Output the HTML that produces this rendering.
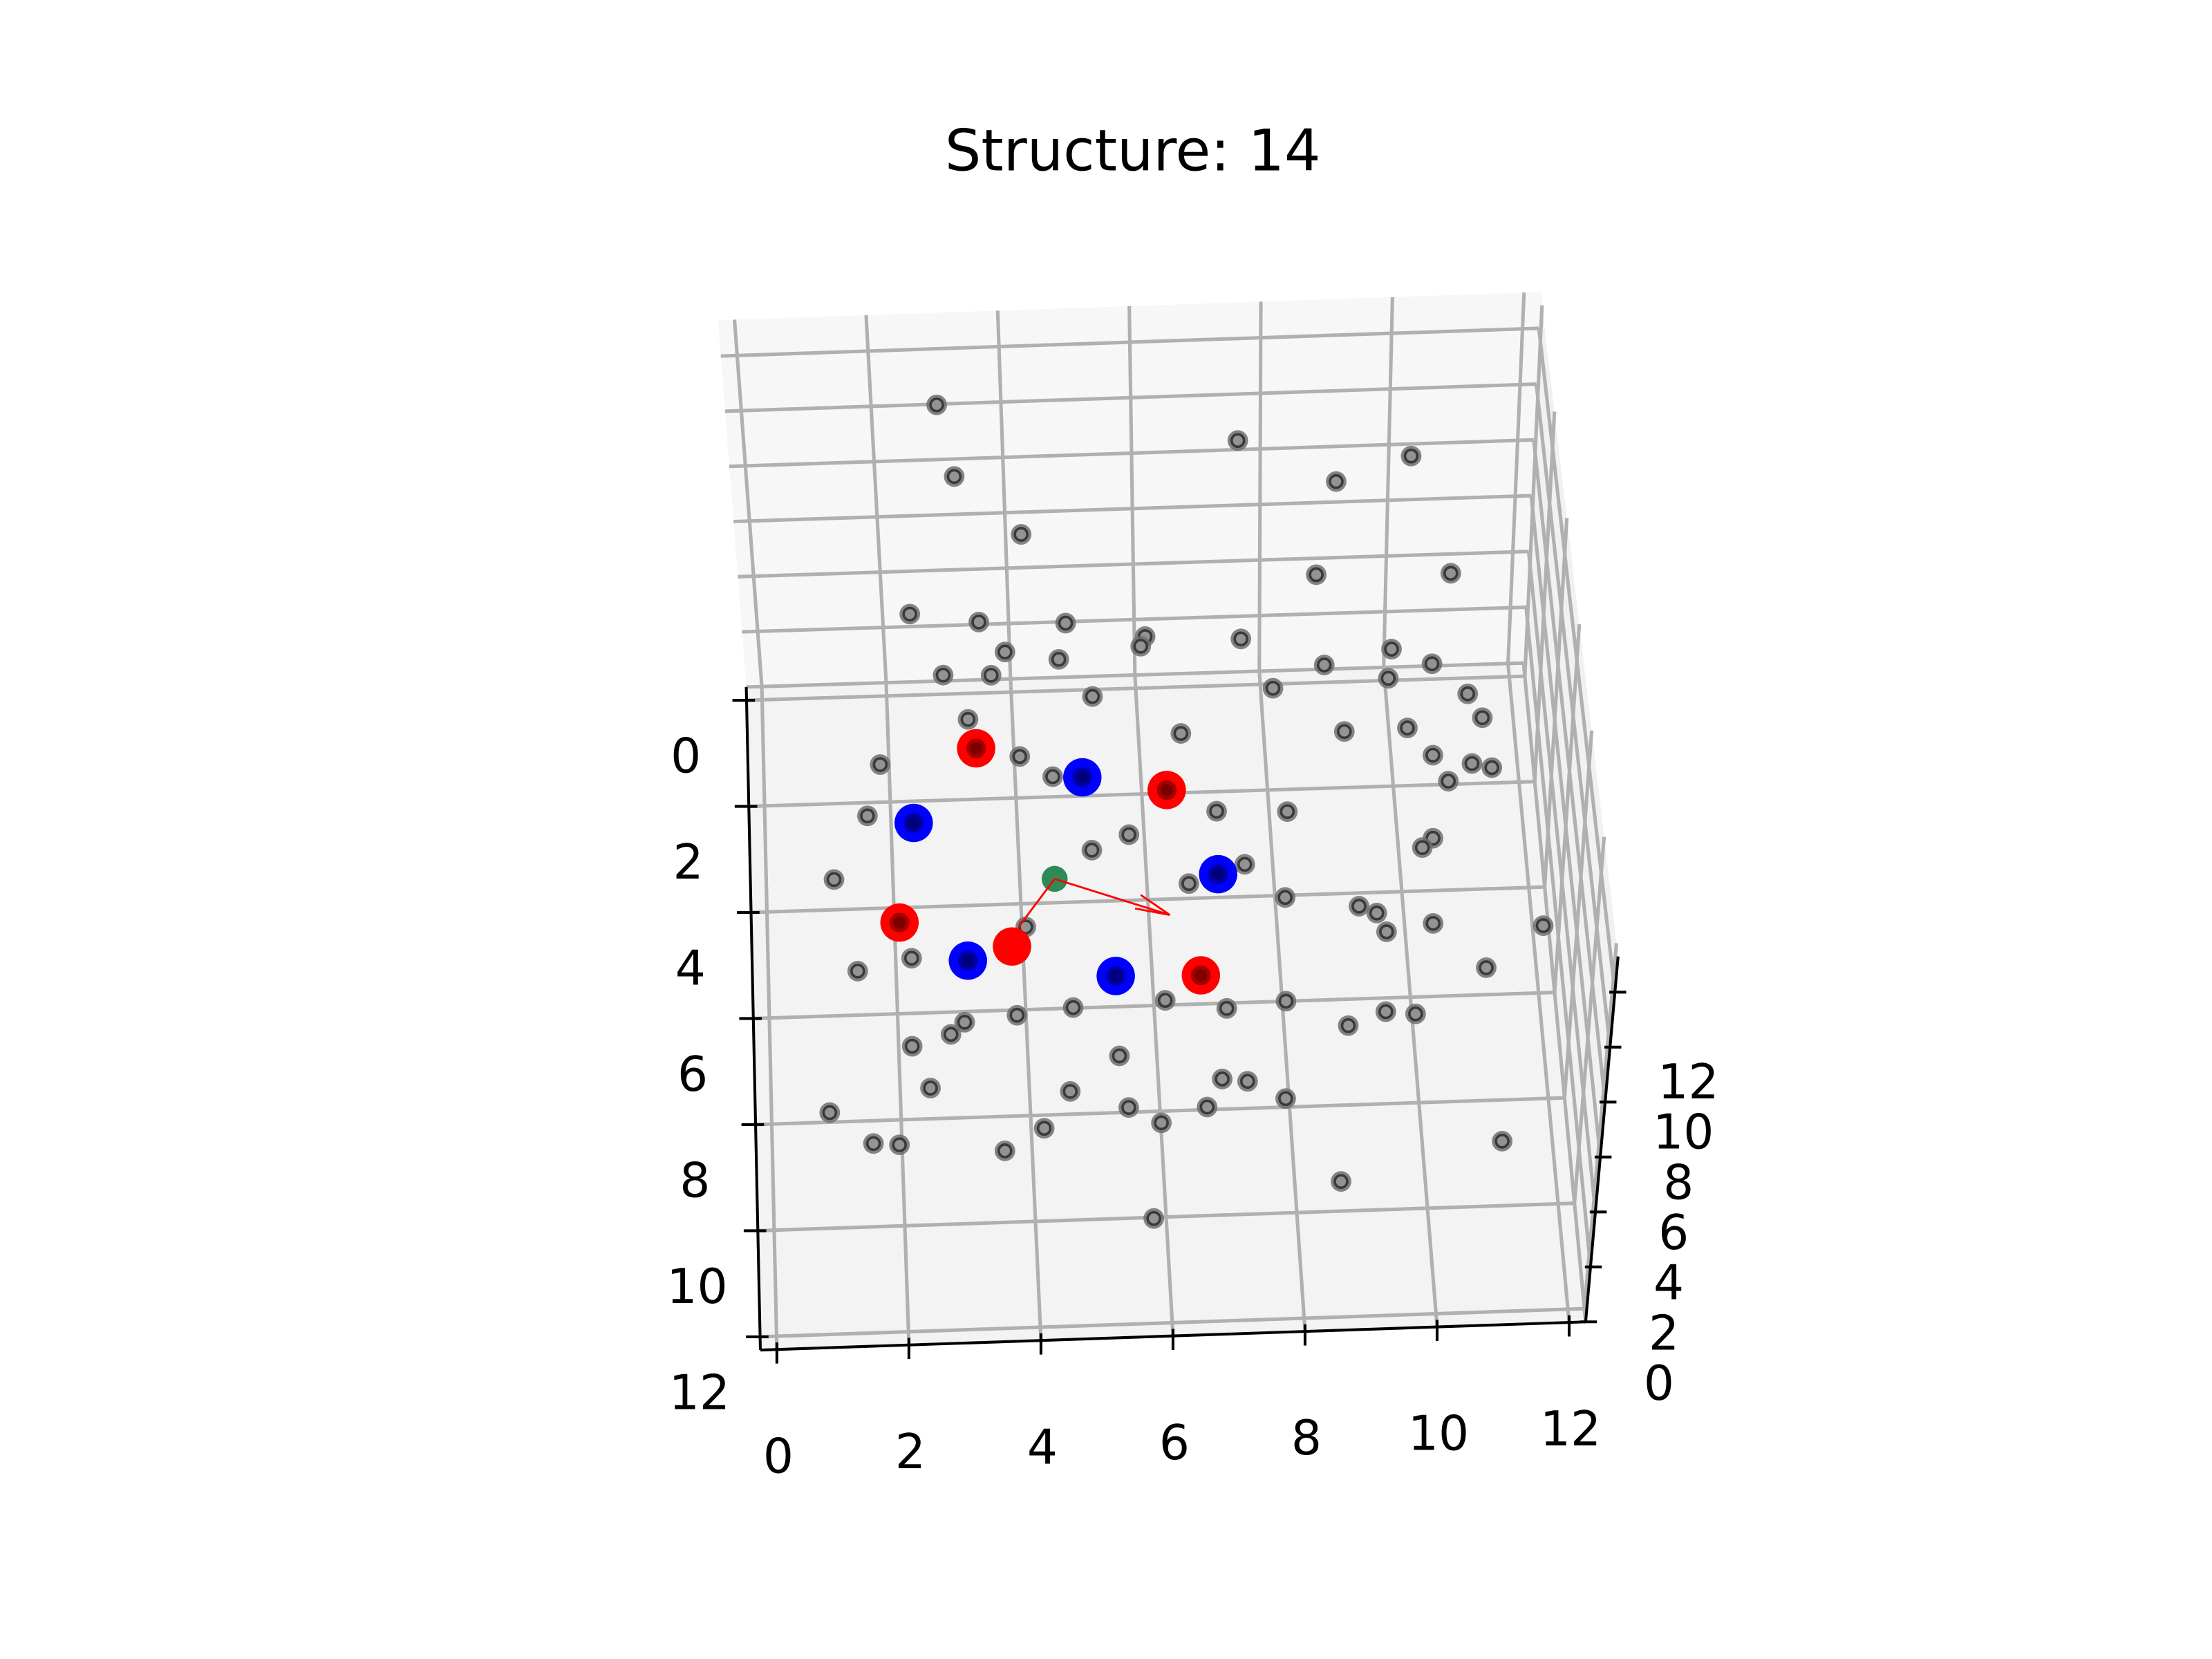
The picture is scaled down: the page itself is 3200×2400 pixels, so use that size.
<!DOCTYPE html>
<html><head><meta charset="utf-8"><title>Structure: 14</title>
<style>html,body{margin:0;padding:0;background:#fff}svg{display:block}text{font-family:"DejaVu Sans","Liberation Sans",sans-serif;fill:#000}</style>
</head><body>
<svg id="chart" width="3200" height="2400" viewBox="0 0 1568 1176" xmlns="http://www.w3.org/2000/svg">
<rect width="1568" height="1176" fill="#fff"/>
<text x="803" y="107" font-size="40.5" text-anchor="middle" dominant-baseline="central">Structure: 14</text>
<g id="panes"></g>
<g id="grid"></g>
<g id="axes"></g>
<g id="marks"></g>
</svg>
<script>
const xTicks=[0,2,4,6,8,10,12];
const yTicks=[0,2,4,6,8,10,12];
const zTicks=[0,2,4,6,8,10,12];
const tickLabels=["0","2","4","6","8","10","12"];
const grayX=[2.99,7.91,10.73,3.23,9.47,4.28,9.03,11.21,2.42,3.53,4.93,6.2,7.74,6.12,3.93,4.79,9.05,10.15,10.78,2.92,3.69,10.06,8.2,5.3,11.31,11.51,3.29,6.68,9.29,10.3,1.86,4.09,4.6,10.67,11.28,11.59,10.88,1.63,7.17,8.29,5.76,5.16,10.56,10.38,1.07,6.66,7.56,8.16,9.31,9.58,4.06,9.71,10.45,12.17,1.4,2.25,11.22,4.74,6.18,7.13,8.06,3.04,3.86,2.82,9.0,9.6,10.06,2.21,5.42,2.47,4.63,6.99,7.38,0.9,5.52,6.73,7.95,4.2,6.01,1.56,1.96,3.58,11.23,8.71,5.81];
const grayY=[-5.46,-4.62,-4.23,-4.10,-3.79,-2.97,-2.04,-1.99,-1.53,-1.34,-1.27,-0.97,-0.87,-0.79,-0.76,-0.59,-0.33,-0.59,-0.29,-0.36,-0.33,-0.04,0.08,0.13,0.3,0.76,0.49,0.88,0.94,0.91,1.29,1.22,1.62,1.44,1.62,1.71,1.94,2.25,2.37,2.42,2.76,3.03,3.01,3.18,3.43,3.72,3.39,4.04,4.25,4.39,4.44,4.75,4.62,4.73,5.17,4.96,5.49,5.99,5.91,6.1,6.0,6.2,6.1,6.42,6.5,6.26,6.32,6.62,6.93,7.42,7.57,7.43,7.49,7.82,7.91,7.95,7.84,8.25,8.22,8.43,8.47,8.65,8.78,9.44,10.02];
const redX=[3.4,6.4,2.08,3.83,6.76];
const redY=[1.04,1.94,4.28,4.8,5.46];
const redCovered=[1,1,1,0,1];
const blueX=[2.36,5.07,7.13,3.13,5.43];
const blueY=[2.41,1.65,3.56,5.04,5.42];
const centerXY=[4.55,3.55];
const arrowEnds=[[6.33,4.3],[3.95,4.43]];

const xLo=-0.25,xHi=12.25,yLo=-0.25,yHi=12.25,zLo=0,zHi=13.3;
const K={c000:[529,487],c100:[1080,470],c010:[539,957],c110:[1124,937],c001:[509,227],c101:[1092,207],c011:[523,699],c111:[1147,678]};
function lerp(a,b,t){return [a[0]+(b[0]-a[0])*t,a[1]+(b[1]-a[1])*t];}
function proj(x,y,z){
  const u=(x-xLo)/(xHi-xLo),v=(y-yLo)/(yHi-yLo),w=(z-zLo)/(zHi-zLo);
  const b0=lerp(lerp(K.c000,K.c100,u),lerp(K.c010,K.c110,u),v);
  const b1=lerp(lerp(K.c001,K.c101,u),lerp(K.c011,K.c111,u),v);
  return lerp(b0,b1,w);
}
const NS="http://www.w3.org/2000/svg";
function mk(tag,parent,attrs){const e=document.createElementNS(NS,tag);for(const k in attrs)e.setAttribute(k,attrs[k]);parent.appendChild(e);return e;}
function ln(parent,p,q,stroke,w){return mk('line',parent,{x1:p[0],y1:p[1],x2:q[0],y2:q[1],stroke:stroke,'stroke-width':w});}
const panes=document.getElementById('panes'),grid=document.getElementById('grid'),axes=document.getElementById('axes'),marks=document.getElementById('marks');
function poly(pts,fill,name){const p=mk('polygon',panes,{points:pts.map(q=>q.join(',')).join(' '),fill:fill});

}
poly([proj(xLo,yLo,zLo),proj(xHi,yLo,zLo),proj(xHi,yLo,zHi),proj(xLo,yLo,zHi)],'#f7f7f7','back-pane');
poly([proj(xLo,yLo,zLo),proj(xHi,yLo,zLo),proj(xHi,yHi,zLo),proj(xLo,yHi,zLo)],'#f3f3f3','floor-pane');
poly([proj(xHi,yLo,zLo),proj(xHi,yHi,zLo),proj(xHi,yHi,zHi),proj(xHi,yLo,zHi)],'#f1f1f1','right-pane');
const GC='#b0b0b0',GW=2.5;
xTicks.forEach(x=>{let l=ln(grid,proj(x,yLo,0),proj(x,yHi,0),GC,GW);


l=ln(grid,proj(x,yLo,0),proj(x,yLo,zHi),GC,GW);

});
yTicks.forEach(y=>{let l=ln(grid,proj(xLo,y,0),proj(xHi,y,0),GC,GW);


l=ln(grid,proj(xHi,y,0),proj(xHi,y,zHi),GC,GW);

});
zTicks.forEach(z=>{let l=ln(grid,proj(xLo,yLo,z),proj(xHi,yLo,z),GC,GW);


l=ln(grid,proj(xHi,yLo,z),proj(xHi,yHi,z),GC,GW);

});
let a=ln(axes,proj(xLo,yLo,0),proj(xLo,yHi,0),'#000',2);


a=ln(axes,proj(xLo,yHi,0),proj(xHi,yHi,0),'#000',2);


a=ln(axes,proj(xHi,yHi,0),proj(xHi,yHi,zHi),'#000',2);


function txt(p,s,name){const t=mk('text',axes,{x:p[0],y:p[1],'font-size':34,'text-anchor':'middle','dominant-baseline':'central'});t.textContent=s;

}
yTicks.forEach((y,i)=>{const p=proj(xLo,y,0);const t=ln(axes,[p[0]-10,p[1]],[p[0]+6,p[1]],'#000',2);


txt([p[0]-43,p[1]+40],tickLabels[i],'y-tick-label');});
xTicks.forEach((x,i)=>{const p=proj(x,yHi,0);const t=ln(axes,[p[0],p[1]-5],[p[0],p[1]+10],'#000',2);


txt([p[0]+1,p[1]+76],tickLabels[i],'x-tick-label');});
zTicks.forEach((z,i)=>{const p=proj(xHi,yHi,z);const t=ln(axes,[p[0]-4,p[1]],[p[0]+8,p[1]],'#000',2);


txt([p[0]+52,p[1]+44+20*z/12],tickLabels[i],'z-tick-label');});
grayX.forEach((x,i)=>{const p=proj(x,grayY[i],0);const g=mk('g',marks,{});


mk('circle',g,{cx:p[0],cy:p[1],r:7.3,fill:'#6f6f6f','fill-opacity':0.85});
mk('circle',g,{cx:p[0],cy:p[1],r:4.4,fill:'#939393',stroke:'#3a3a3a','stroke-width':1.8});});
function big(x,y,color,covered,name){const p=proj(x,y,0);const g=mk('g',marks,{});


mk('circle',g,{cx:p[0],cy:p[1],r:13.6,fill:color});
if(covered){mk('circle',g,{cx:p[0],cy:p[1],r:7,fill:'#000','fill-opacity':0.35});mk('circle',g,{cx:p[0],cy:p[1],r:4.3,fill:'#000','fill-opacity':0.25});}}
redX.forEach((x,i)=>big(x,redY[i],'#ff0000',redCovered[i],'red-atom'));
blueX.forEach((x,i)=>big(x,blueY[i],'#0000ff',1,'blue-atom'));
const c=proj(centerXY[0],centerXY[1],0);
const gc=mk('circle',marks,{cx:c[0],cy:c[1],r:9.2,fill:'#2e8b57'});


arrowEnds.forEach((e,i)=>{const q=proj(e[0],e[1],0);const g=mk('g',marks,{});


ln(g,c,q,'#ff0000',1.4);
if(i===0){const dx=c[0]-q[0],dy=c[1]-q[1],L=Math.hypot(dx,dy),ux=dx/L,uy=dy/L;
[0.3,-0.12].forEach(ang=>{const ca=Math.cos(ang),sa=Math.sin(ang);const bx=ux*ca-uy*sa,by=ux*sa+uy*ca;ln(g,q,[q[0]+bx*25,q[1]+by*25],'#ff0000',1.4);});}});
</script>
</body></html>
